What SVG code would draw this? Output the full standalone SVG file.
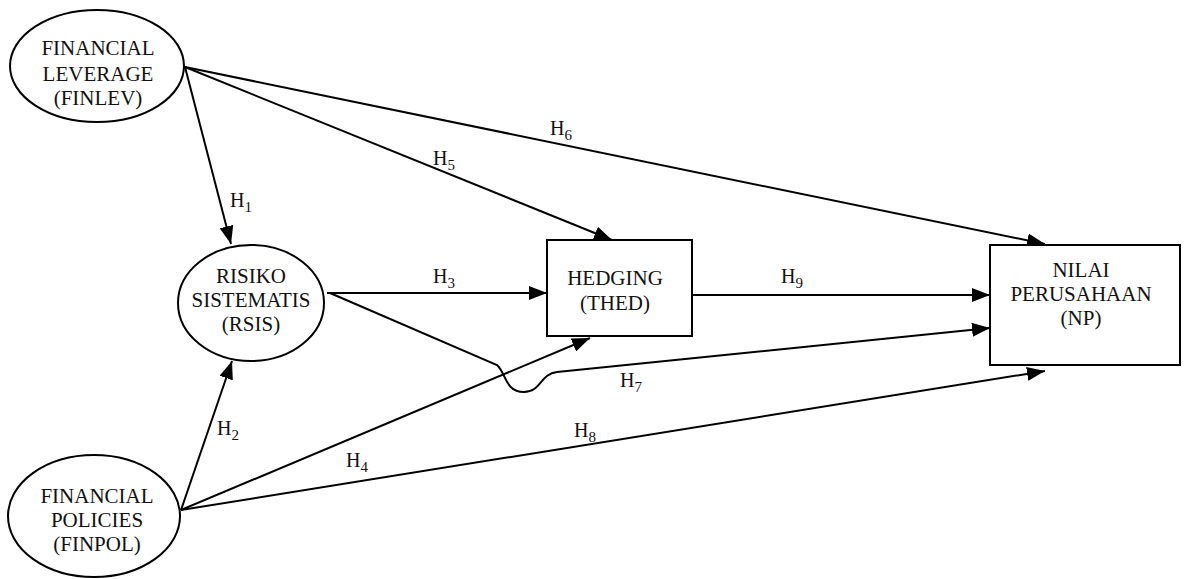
<svg xmlns="http://www.w3.org/2000/svg" width="1188" height="579" viewBox="0 0 1188 579">
<style>
.n{fill:#fff;stroke:#000;stroke-width:2}
.t{font-size:21px;fill:#111;text-anchor:middle}
.c{fill:none;stroke:#000;stroke-width:2}
.l{font-size:20px;fill:#111}
.s{font-size:15px}
</style>
<defs>
<marker id="a" markerUnits="userSpaceOnUse" markerWidth="20" markerHeight="14" refX="18" refY="7" orient="auto">
<path d="M0,0 L18,7 L0,14 z" fill="#000"/>
</marker>
</defs>
<rect width="1188" height="579" fill="#fff"/>
<g font-family="'Liberation Serif', 'DejaVu Serif', serif">
<g id="connectors">
<path class="c" marker-end="url(#a)" d="M185 67 L231 244"/>
<path class="c" marker-end="url(#a)" d="M185 67 L612 240"/>
<path class="c" marker-end="url(#a)" d="M185 67 L1045 244"/>
<path class="c" marker-end="url(#a)" d="M327 293 L547 293"/>
<path class="c" marker-end="url(#a)" d="M692 295 L990 295"/>
<path class="c" marker-end="url(#a)" d="M330 293 L497 365 C506 373 505 392 524 392 C541 392 540 374 557 372 L990 328"/>
<path class="c" marker-end="url(#a)" d="M181 510 L232 361"/>
<path class="c" marker-end="url(#a)" d="M181 510 L590 338"/>
<path class="c" marker-end="url(#a)" d="M181 510 L1045 371"/>
<text class="l" x="230" y="207">H<tspan class="s" dy="5">1</tspan></text>
<text class="l" x="217" y="435">H<tspan class="s" dy="5">2</tspan></text>
<text class="l" x="433" y="283">H<tspan class="s" dy="5">3</tspan></text>
<text class="l" x="346" y="467">H<tspan class="s" dy="5">4</tspan></text>
<text class="l" x="433" y="165">H<tspan class="s" dy="5">5</tspan></text>
<text class="l" x="550" y="135">H<tspan class="s" dy="5">6</tspan></text>
<text class="l" x="620" y="387">H<tspan class="s" dy="5">7</tspan></text>
<text class="l" x="574" y="437">H<tspan class="s" dy="5">8</tspan></text>
<text class="l" x="781" y="283">H<tspan class="s" dy="5">9</tspan></text>
</g>
<g id="finlev">
<ellipse class="n" cx="97" cy="66" rx="87" ry="56"/>
<text class="t" x="98" y="55">FINANCIAL</text>
<text class="t" x="98" y="81">LEVERAGE</text>
<text class="t" x="98" y="105">(FINLEV)</text>
</g>
<g id="rsis">
<ellipse class="n" cx="251" cy="303" rx="73" ry="58"/>
<text class="t" x="251" y="283">RISIKO</text>
<text class="t" x="251" y="307">SISTEMATIS</text>
<text class="t" x="251" y="331">(RSIS)</text>
</g>
<g id="hedging">
<rect class="n" x="547" y="240" width="145" height="96"/>
<text class="t" x="615" y="285">HEDGING</text>
<text class="t" x="615" y="310">(THED)</text>
</g>
<g id="np">
<rect class="n" x="990" y="245" width="190" height="120"/>
<text class="t" x="1081" y="277">NILAI</text>
<text class="t" x="1081" y="301">PERUSAHAAN</text>
<text class="t" x="1081" y="325">(NP)</text>
</g>
<g id="finpol">
<ellipse class="n" cx="94" cy="516" rx="86" ry="61"/>
<text class="t" x="97" y="503">FINANCIAL</text>
<text class="t" x="97" y="527">POLICIES</text>
<text class="t" x="97" y="551">(FINPOL)</text>
</g>
</g>
</svg>
